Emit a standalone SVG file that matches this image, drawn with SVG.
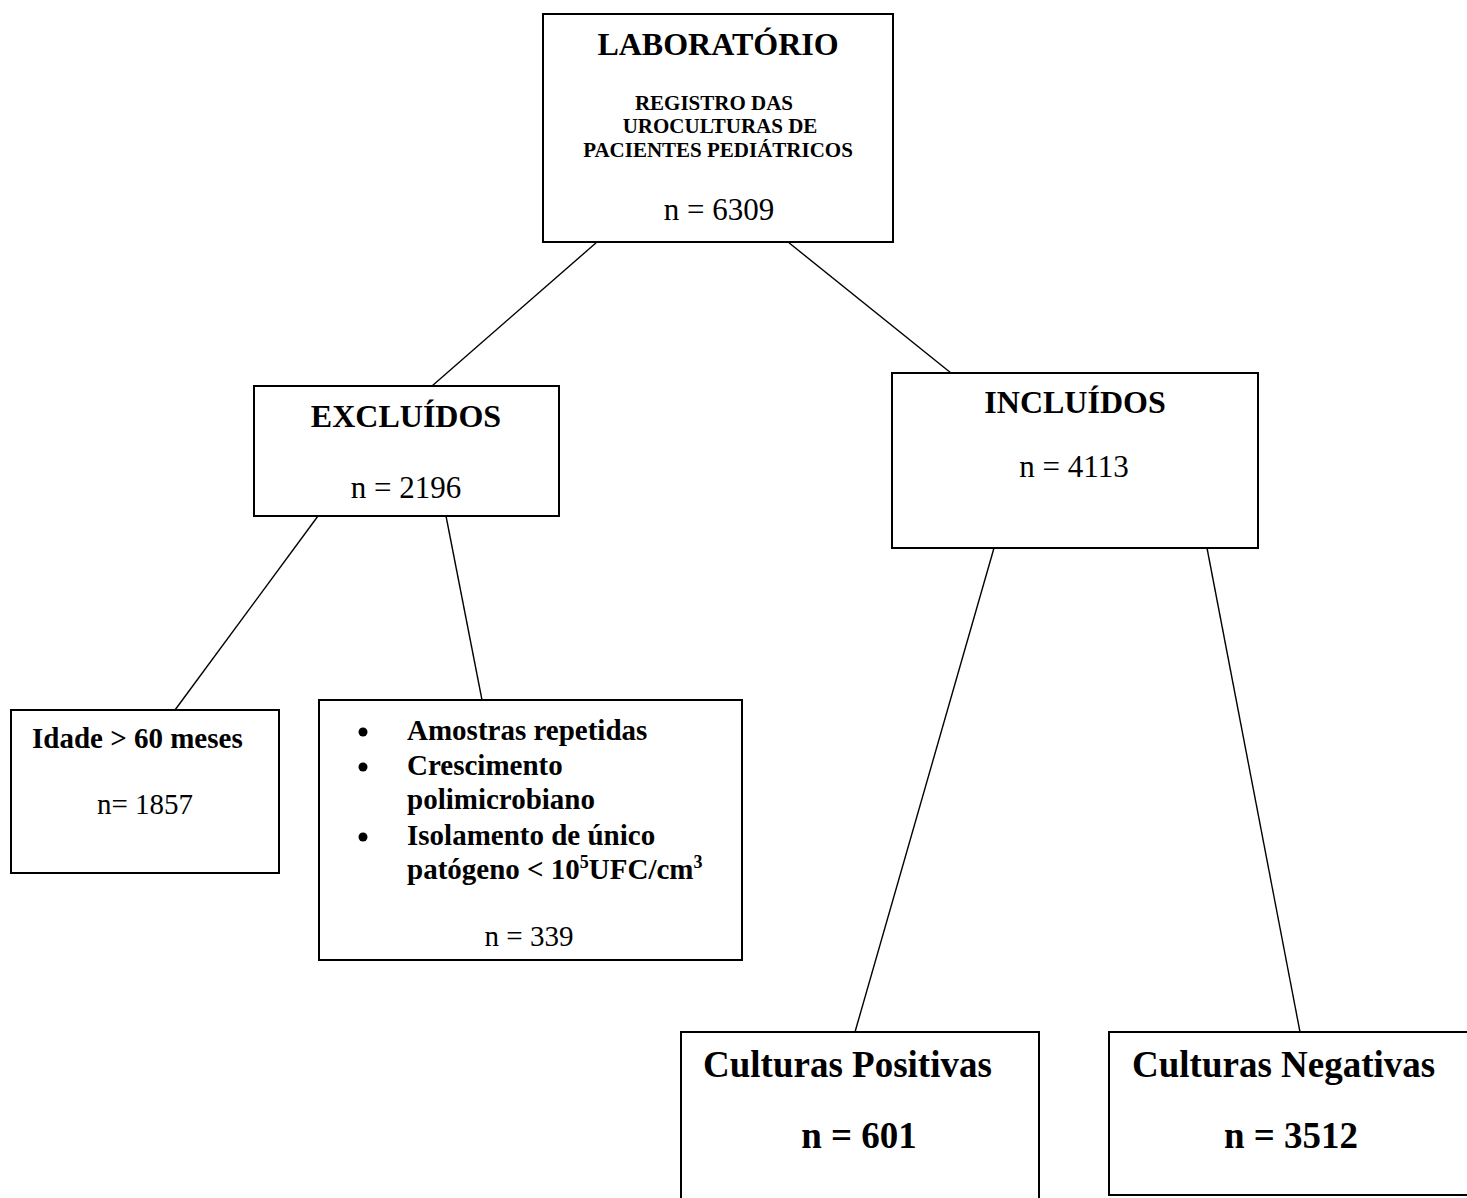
<svg xmlns="http://www.w3.org/2000/svg" width="1467" height="1198" viewBox="0 0 1467 1198">
<style>
.box{fill:#fff;stroke:#000;stroke-width:2}
.ln{stroke:#000;stroke-width:1.4;fill:none}
text{font-family:"Liberation Serif","Times New Roman",serif;fill:#000}
.b{font-weight:bold}
.c{text-anchor:middle}
</style>
<rect width="1467" height="1198" fill="#fff"/>
<g id="connectors">
<line class="ln" x1="597" y1="242" x2="432" y2="386"/>
<line class="ln" x1="788" y1="242" x2="951" y2="373"/>
<line class="ln" x1="318" y1="516" x2="175" y2="710"/>
<line class="ln" x1="446" y1="516" x2="482" y2="700"/>
<line class="ln" x1="994" y1="548" x2="855" y2="1032"/>
<line class="ln" x1="1207" y1="548" x2="1300" y2="1032"/>
</g>
<g id="laboratorio">
<rect class="box" x="543" y="14" width="350" height="228"/>
<text class="b c" x="718" y="55" font-size="32">LABORATÓRIO</text>
<text class="b c" x="714" y="110" font-size="21">REGISTRO DAS</text>
<text class="b c" x="720" y="133" font-size="21">UROCULTURAS DE</text>
<text class="b c" x="718" y="157" font-size="21">PACIENTES PEDIÁTRICOS</text>
<text class="c" x="719" y="220" font-size="31">n = 6309</text>
</g>
<g id="excluidos">
<rect class="box" x="254" y="386" width="305" height="130"/>
<text class="b c" x="406" y="427" font-size="32">EXCLUÍDOS</text>
<text class="c" x="406" y="498" font-size="31">n = 2196</text>
</g>
<g id="incluidos">
<rect class="box" x="892" y="373" width="366" height="175"/>
<text class="b c" x="1075" y="413" font-size="32">INCLUÍDOS</text>
<text class="c" x="1074" y="477" font-size="31">n = 4113</text>
</g>
<g id="idade">
<rect class="box" x="11" y="710" width="268" height="163"/>
<text class="b" x="32" y="748" font-size="29">Idade &gt; 60 meses</text>
<text class="c" x="145" y="814" font-size="29">n= 1857</text>
</g>
<g id="outros-excluidos">
<rect class="box" x="319" y="700" width="423" height="260"/>
<circle cx="363" cy="732" r="4.5"/>
<circle cx="363" cy="767" r="4.5"/>
<circle cx="363" cy="837" r="4.5"/>
<text class="b" x="407" y="740" font-size="29">Amostras repetidas</text>
<text class="b" x="407" y="775" font-size="29">Crescimento</text>
<text class="b" x="407" y="809" font-size="29">polimicrobiano</text>
<text class="b" x="407" y="845" font-size="29">Isolamento de único</text>
<text class="b" x="407" y="879" font-size="29">patógeno &lt; 10<tspan font-size="18" dy="-11">5</tspan><tspan dy="11">UFC/cm</tspan><tspan font-size="18" dy="-11">3</tspan></text>
<text class="c" x="529" y="946" font-size="29">n = 339</text>
</g>
<g id="positivas">
<rect class="box" x="681" y="1032" width="358" height="180"/>
<text class="b" x="703" y="1077" font-size="37">Culturas Positivas</text>
<text class="b c" x="859" y="1148" font-size="37">n = 601</text>
</g>
<g id="negativas">
<rect class="box" x="1109" y="1032" width="365" height="163"/>
<text class="b" x="1132" y="1077" font-size="37">Culturas Negativas</text>
<text class="b c" x="1291" y="1148" font-size="37">n = 3512</text>
</g>
</svg>
